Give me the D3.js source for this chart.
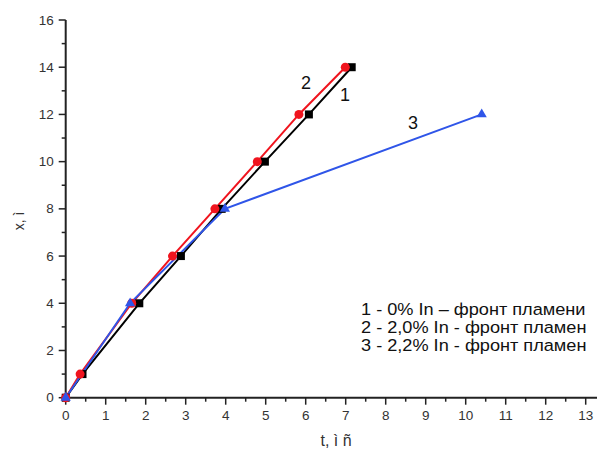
<!DOCTYPE html>
<html><head><meta charset="utf-8">
<script src="https://cdn.jsdelivr.net/npm/d3@7"></script>
<style>body{margin:0;background:#fff}svg{display:block}</style>
</head><body><svg id="c" width="597" height="449"></svg>
<script>
const xTicks = [0,1,2,3,4,5,6,7,8,9,10,11,12,13];
const yTicks = [0,2,4,6,8,10,12,14,16];
const s1 = [[0,0],[0.42,1],[1.84,4],[2.88,6],[3.9,8],[4.98,10],[6.08,12],[7.15,14]];
const s2 = [[0,0],[0.36,1],[1.65,4],[2.67,6],[3.73,8],[4.79,10],[5.83,12],[6.99,14]];
const s3 = [[0,0],[1.61,4],[3.98,8],[10.4,12]];
const seriesLabels = ["1","2","3"];
const legendLines = ["1 - 0% In \u2013 фронт пламени","2 - 2,0% In - фронт пламен","3 - 2,2% In - фронт пламен"];

const svg = d3.select("#c");
const x = d3.scaleLinear().domain([0,13]).range([65.7,585.7]);
const y = d3.scaleLinear().domain([0,16]).range([397.7,20]);
const font = "Liberation Sans, Arial, sans-serif";

// axes
const xa = svg.append("g").attr("transform","translate(0,397.7)");
xa.append("line").attr("x1",x(0)).attr("x2",597).attr("stroke","#222").attr("stroke-width",2);
xa.selectAll(".mn").data(d3.range(0,13.01,0.5)).enter().append("line")
  .attr("x1",d=>x(d)).attr("x2",d=>x(d)).attr("y1",0).attr("y2",d=>Number.isInteger(d)?7:4)
  .attr("stroke","#222").attr("stroke-width",1.5);
xa.selectAll("text").data(xTicks).enter().append("text")
  .attr("x",d=>x(d)).attr("y",22).attr("text-anchor","middle")
  .attr("font-family",font).attr("font-size",13.5).attr("fill","#333").text(d=>d);

const ya = svg.append("g").attr("transform","translate(65.7,0)");
ya.append("line").attr("y1",y(0)+1).attr("y2",y(16)).attr("stroke","#222").attr("stroke-width",2);
ya.selectAll(".mn").data(d3.range(0,16.01,1)).enter().append("line")
  .attr("y1",d=>y(d)).attr("y2",d=>y(d)).attr("x1",0).attr("x2",d=>d%2===0?-7:-4)
  .attr("stroke","#222").attr("stroke-width",1.5);
ya.selectAll("text").data(yTicks).enter().append("text")
  .attr("x",-12).attr("y",d=>y(d)+4.5).attr("text-anchor","end")
  .attr("font-family",font).attr("font-size",13.5).attr("fill","#333").text(d=>d);

// axis titles
svg.append("text").attr("x",336).attr("y",446).attr("text-anchor","middle")
  .attr("font-family",font).attr("font-size",16).attr("fill","#333").text("t, ì  ñ");
svg.append("text").attr("transform","translate(24,221) rotate(-90)").attr("text-anchor","middle")
  .attr("font-family",font).attr("font-size",14).attr("fill","#333").text("x, ì");

const line = d3.line().x(d=>x(d[0])).y(d=>y(d[1]));
function drawLine(data,color){
  svg.append("path").datum(data).attr("d",line).attr("fill","none").attr("stroke",color).attr("stroke-width",2);
}
drawLine(s1,"#000");
drawLine(s2,"#f0141e");
drawLine(s3,"#2f55e8");

svg.selectAll(".sq").data(s1).enter().append("rect")
  .attr("x",d=>x(d[0])-4).attr("y",d=>y(d[1])-4).attr("width",8).attr("height",8).attr("fill","#000");
svg.selectAll(".ci").data(s2).enter().append("circle")
  .attr("cx",d=>x(d[0])).attr("cy",d=>y(d[1])).attr("r",4.5).attr("fill","#f0141e");
const tri = d3.symbol().type(d3.symbolTriangle).size(45);
svg.selectAll(".tr").data(s3).enter().append("path")
  .attr("d",tri).attr("transform",d=>`translate(${x(d[0])},${y(d[1])})`).attr("fill","#2f55e8");

// series number labels
const labelPos = [[6.98,12.57],[6.01,13.08],[8.68,11.39]];
svg.selectAll(".nl").data(seriesLabels).enter().append("text")
  .attr("x",(d,i)=>x(labelPos[i][0])).attr("y",(d,i)=>y(labelPos[i][1]))
  .attr("text-anchor","middle").attr("font-family",font).attr("font-size",18).attr("fill","#111").text(d=>d);

const lg = svg.append("g").attr("transform","translate(361,0) scale(1.05,1)");
lg.selectAll(".lg").data(legendLines).enter().append("text")
  .attr("x",0).attr("y",(d,i)=>315.5+i*18).attr("font-family",font).attr("font-size",17.3).attr("fill","#111").text(d=>d);
</script></body></html>
